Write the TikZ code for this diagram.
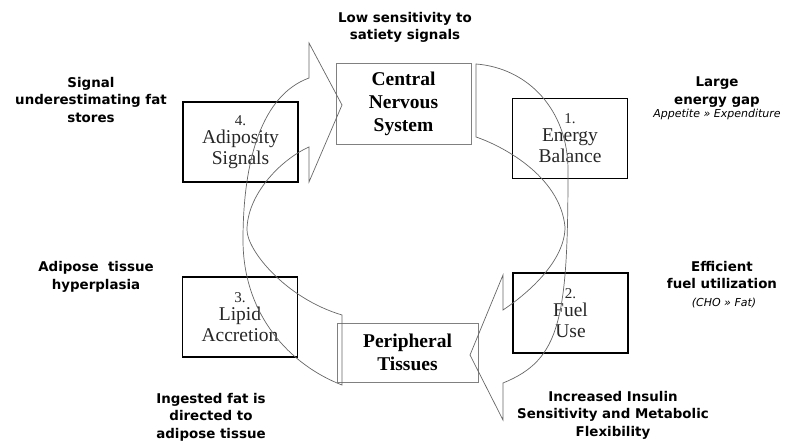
\documentclass[tikz,border=0pt]{standalone}
\usepackage{fontspec}
\setmainfont{Liberation Serif}
\newfontfamily\annotfont{DejaVu Sans}
\begin{document}
\begin{tikzpicture}[x=1pt,y=-1pt,
  numbox/.style={draw=black, line width=1.6pt, minimum width=115pt, minimum height=80pt,
    inner sep=0pt, align=center, text=black!85, font=\fontsize{19.5}{21}\selectfont},
  hubbox/.style={draw=black!50, line width=0.7pt, inner sep=0pt, align=center,
    font=\bfseries\fontsize{19.5}{23}\selectfont},
  note/.style={align=center, inner sep=0pt, font=\annotfont\bfseries\fontsize{13.4}{17.5}\selectfont},
  subnote/.style={inner sep=0pt, font=\annotfont\itshape\fontsize{11}{13}\selectfont},
  arrowline/.style={draw=black!60, line width=0.7pt, line join=miter}]
\useasboundingbox (0,0) rectangle (797,443);

% central boxes
\node[hubbox, minimum width=135pt, minimum height=81pt] (cns) at (403.5,103.5) {Central\\ Nervous\\ System};
\node[hubbox, minimum width=141pt, minimum height=59pt] (pt) at (407.5,352.5) {Peripheral\\ Tissues};

% numbered boxes
\node[numbox] (eb) at (570,138.5) {{\fontsize{15}{15}\selectfont 1.}\\[-3pt] Energy\\ Balance};
\node[numbox] (fu) at (570.5,313) {{\fontsize{15}{15}\selectfont 2.}\\[-3pt] Fuel\\ Use};
\node[numbox] (la) at (240,317) {{\fontsize{15}{15}\selectfont 3.}\\[-3pt] Lipid\\ Accretion};
\node[numbox] (as) at (240.5,142) {{\fontsize{15}{15}\selectfont 4.}\\[-3pt] Adiposity\\ Signals};

% right curved arrow (CNS -> Peripheral Tissues)
\coordinate (rT1) at (476,64);
\coordinate (rT2) at (476,137);
\coordinate (rN1) at (503,310);
\coordinate (rN2) at (503,383);
\coordinate (rB1) at (503,275);
\coordinate (rB2) at (503,420);
\coordinate (rTip) at (470,355);
\draw[arrowline] (rT1) .. controls (528,68) and (568,110) .. (568,170)
  .. controls (568,320) and (560,360) .. (rN2)
  -- (rB2) -- (rTip) -- (rB1) -- (rN1)
  .. controls (530,292) and (565,260) .. (565,227)
  .. controls (560,175) and (500,145) .. (rT2) -- cycle;

% left curved arrow (Peripheral Tissues -> CNS)
\coordinate (lT1) at (342,385);
\coordinate (lT2) at (342,315);
\coordinate (lN1) at (309,78);
\coordinate (lN2) at (309,147);
\coordinate (lB1) at (309,43);
\coordinate (lB2) at (309,182);
\coordinate (lTip) at (342,105);
\draw[arrowline] (lT1) .. controls (290,365) and (243,315) .. (243,240)
  .. controls (243,160) and (262,95) .. (lN1)
  -- (lB1) -- (lTip) -- (lB2) -- (lN2)
  .. controls (280,160) and (247,195) .. (247,230)
  .. controls (247,250) and (285,298) .. (lT2) -- cycle;

% annotations
\node[note] (nLow) at (405,27.5) {Low sensitivity to\\ satiety signals};
\node[note] (nLarge) at (717,92) {Large\\ energy gap};
\node[subnote] (nApp) at (717,114.5) {Appetite » Expenditure};
\node[note] (nSig) at (91,100) {Signal\\ underestimating fat\\ stores};
\node[note] (nAdi) at (96,277) {Adipose\ \ tissue\\ hyperplasia};
\node[note] (nIng) at (211,417) {Ingested fat is\\ directed to\\ adipose tissue};
\node[note] (nEff) at (722,275) {Efficient\\ fuel utilization};
\node[subnote] (nCHO) at (724,303) {(CHO » Fat)};
\node[note] (nIns) at (613,415) {Increased Insulin\\ Sensitivity and Metabolic\\ Flexibility};
\end{tikzpicture}
\end{document}
